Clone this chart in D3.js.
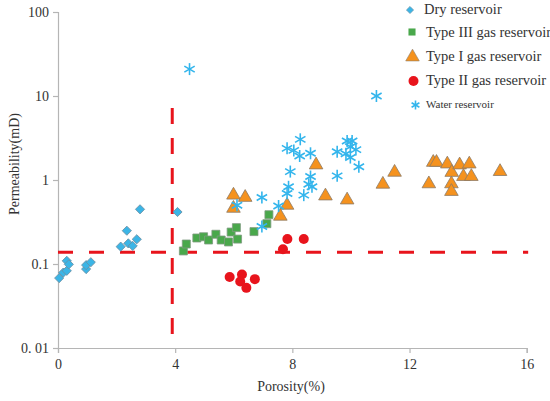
<!DOCTYPE html>
<html>
<head>
<meta charset="utf-8">
<script src="https://cdn.jsdelivr.net/npm/d3@7"></script>
<style>
  body { margin: 0; background: #fff; }
</style>
</head>
<body>
<svg id="chart" width="550" height="401"></svg>
<script>
// donnees (porosite %, permeabilite mD)
const dryPoro = [0.04, 0.18, 0.30, 0.30, 0.37, 0.96, 0.96, 1.12, 2.14, 2.35, 2.40, 2.55, 2.69, 2.80, 4.08];
const dryPerm = [0.068, 0.079, 0.083, 0.109, 0.099, 0.087, 0.097, 0.105, 0.161, 0.249, 0.176, 0.164, 0.197, 0.448, 0.416];

const type3Poro = [4.28, 4.38, 4.74, 4.97, 5.14, 5.39, 5.57, 5.82, 5.91, 6.09, 6.13, 6.69, 7.13, 7.20];
const type3Perm = [0.143, 0.173, 0.204, 0.211, 0.193, 0.226, 0.193, 0.183, 0.240, 0.271, 0.198, 0.243, 0.302, 0.386];

const type1Poro = [5.99, 6.39, 5.99, 7.82, 7.59, 9.13, 8.81, 9.87, 11.09, 11.49, 12.66, 12.81, 12.92, 13.29, 13.44, 13.43, 13.43, 13.71, 14.04, 13.84, 14.11, 15.09];
const type1Perm = [0.66, 0.62, 0.46, 0.50, 0.37, 0.645, 1.51, 0.578, 0.89, 1.235, 0.90, 1.62, 1.62, 1.55, 1.23, 0.90, 0.73, 1.51, 1.55, 1.10, 1.10, 1.26];

const type2Poro = [5.86, 6.28, 6.22, 6.43, 6.72, 7.68, 7.83, 8.39];
const type2Perm = [0.070, 0.075, 0.062, 0.052, 0.066, 0.150, 0.198, 0.198];

const waterPoro = [4.49, 6.11, 6.96, 6.96, 7.53, 7.82, 7.87, 7.93, 7.82, 8.05, 8.27, 8.25, 8.62, 8.39, 8.56, 8.67, 8.62, 9.53, 9.53, 9.87, 10.04, 9.98, 10.17, 9.83, 9.98, 10.27, 10.87];
const waterPerm = [20.9, 0.50, 0.28, 0.62, 0.49, 0.69, 0.83, 1.26, 2.38, 2.25, 3.05, 1.93, 2.08, 0.66, 0.89, 0.83, 1.10, 2.17, 1.12, 2.91, 2.91, 2.49, 2.30, 2.05, 1.85, 1.44, 10.0];

// lignes de coupure (seuils)
const cutPoro = 3.9;
const cutPerm = 0.138;

const xTicks = [0, 4, 8, 12, 16];
const yTicks = [0.01, 0.1, 1, 10, 100];
const yTickLabels = ["0. 01", "0.1", "1", "10", "100"];

const legendNames = ["Dry reservoir", "Type III gas reservoir", "Type I gas reservoir", "Type II gas reservoir", "Water reservoir"];

const FONT = "'Liberation Serif', 'DejaVu Serif', 'Times New Roman', serif";
const zip = (a, b) => a.map((v, i) => [v, b[i]]);

const svg = d3.select("#chart");

const x = d3.scaleLinear().domain([0, 16]).range([58, 526.7]);
const y = d3.scaleLog().domain([0.01, 100]).range([348, 12]);

// axes
const axeX = d3.axisBottom(x).tickValues(xTicks).tickSize(5).tickPadding(6);
const axeY = d3.axisLeft(y).tickValues(yTicks).tickSize(5).tickPadding(4)
               .tickFormat((d, i) => yTickLabels[i]);

const gX = svg.append("g").attr("transform", "translate(0,348)").call(axeX);
const gY = svg.append("g").attr("transform", "translate(58,0)").call(axeY);
[gX, gY].forEach(g => {
  g.attr("font-family", FONT).attr("font-size", 14);
  g.select(".domain").attr("stroke", "#b5b5b5").attr("stroke-width", 1.2);
  g.selectAll(".tick line").attr("stroke", "#b5b5b5").attr("stroke-width", 1.2);
  g.selectAll(".tick text").attr("fill", "#333");
});

svg.append("text").attr("x", 291).attr("y", 391).attr("text-anchor", "middle")
   .attr("font-family", FONT).attr("font-size", 14).attr("fill", "#333").text("Porosity(%)");
svg.append("text").attr("transform", "translate(19,164) rotate(-90)").attr("text-anchor", "middle")
   .attr("font-family", FONT).attr("font-size", 14).attr("fill", "#333").text("Permeability(mD)");

// lignes rouges pointillees
svg.append("line")
   .attr("x1", x(0)).attr("x2", x(16.05)).attr("y1", y(cutPerm)).attr("y2", y(cutPerm))
   .attr("stroke", "#e8141c").attr("stroke-width", 3).attr("stroke-dasharray", "15,16");
svg.append("line")
   .attr("x1", x(cutPoro)).attr("x2", x(cutPoro)).attr("y1", y(7.2)).attr("y2", y(0.0124))
   .attr("stroke", "#e8141c").attr("stroke-width", 3).attr("stroke-dasharray", "16,14");

// symboles
const diamond = d3.symbol().type(d3.symbolSquare).size(42);
const square = d3.symbol().type(d3.symbolSquare).size(64);
const triangle = d3.symbol().type(d3.symbolTriangle).size(80);

function drawStar(g, size) {
  [90, 30, 150].forEach(a => {
    const r = a * Math.PI / 180;
    g.append("line")
     .attr("x1", -size * Math.cos(r)).attr("y1", -size * Math.sin(r))
     .attr("x2", size * Math.cos(r)).attr("y2", size * Math.sin(r))
     .attr("stroke", "#33b5ec").attr("stroke-width", 1.6);
  });
}

svg.append("g").selectAll("path").data(zip(type3Poro, type3Perm)).enter().append("path")
   .attr("d", square)
   .attr("transform", d => `translate(${x(d[0])},${y(d[1])})`)
   .attr("fill", "#49a84b").attr("stroke", "#7f9a80").attr("stroke-width", 0.8);

svg.append("g").selectAll("path").data(zip(dryPoro, dryPerm)).enter().append("path")
   .attr("d", diamond)
   .attr("transform", d => `translate(${x(d[0])},${y(d[1])}) rotate(45)`)
   .attr("fill", "#3bb5e6").attr("stroke", "#6b8fa3").attr("stroke-width", 0.8);

svg.append("g").selectAll("circle").data(zip(type2Poro, type2Perm)).enter().append("circle")
   .attr("cx", d => x(d[0])).attr("cy", d => y(d[1])).attr("r", 5)
   .attr("fill", "#e8141c");

svg.append("g").selectAll("path").data(zip(type1Poro, type1Perm)).enter().append("path")
   .attr("d", triangle)
   .attr("transform", d => `translate(${x(d[0])},${y(d[1])})`)
   .attr("fill", "#f5921e").attr("stroke", "#8c7a66").attr("stroke-width", 0.8);

svg.append("g").selectAll("g").data(zip(waterPoro, waterPerm)).enter().append("g")
   .attr("transform", d => `translate(${x(d[0])},${y(d[1])})`)
   .each(function () { drawStar(d3.select(this), 6); });

// legende
const lg = svg.append("g");
lg.append("path").attr("d", d3.symbol().type(d3.symbolSquare).size(26)())
  .attr("transform", "translate(410,10) rotate(45)").attr("fill", "#3bb5e6").attr("stroke", "#6b8fa3").attr("stroke-width", 0.6);
lg.append("path").attr("d", d3.symbol().type(d3.symbolSquare).size(50)())
  .attr("transform", "translate(412,32)").attr("fill", "#49a84b");
lg.append("path").attr("d", d3.symbol().type(d3.symbolTriangle).size(80)())
  .attr("transform", "translate(412.5,57)").attr("fill", "#f5921e").attr("stroke", "#8c7a66").attr("stroke-width", 0.6);
lg.append("circle").attr("cx", 413.5).attr("cy", 81).attr("r", 5).attr("fill", "#e8141c");
drawStar(lg.append("g").attr("transform", "translate(415.5,105)"), 4.5);

const legY = [14, 37, 61, 85, 108];
lg.selectAll("text").data(legendNames).enter().append("text")
  .attr("x", (d, i) => i === 0 ? 424 : 426)
  .attr("y", (d, i) => legY[i])
  .attr("font-family", FONT)
  .attr("font-size", (d, i) => i === 4 ? 11 : 14.5)
  .attr("fill", "#333")
  .text(d => d);
</script>
</body>
</html>
